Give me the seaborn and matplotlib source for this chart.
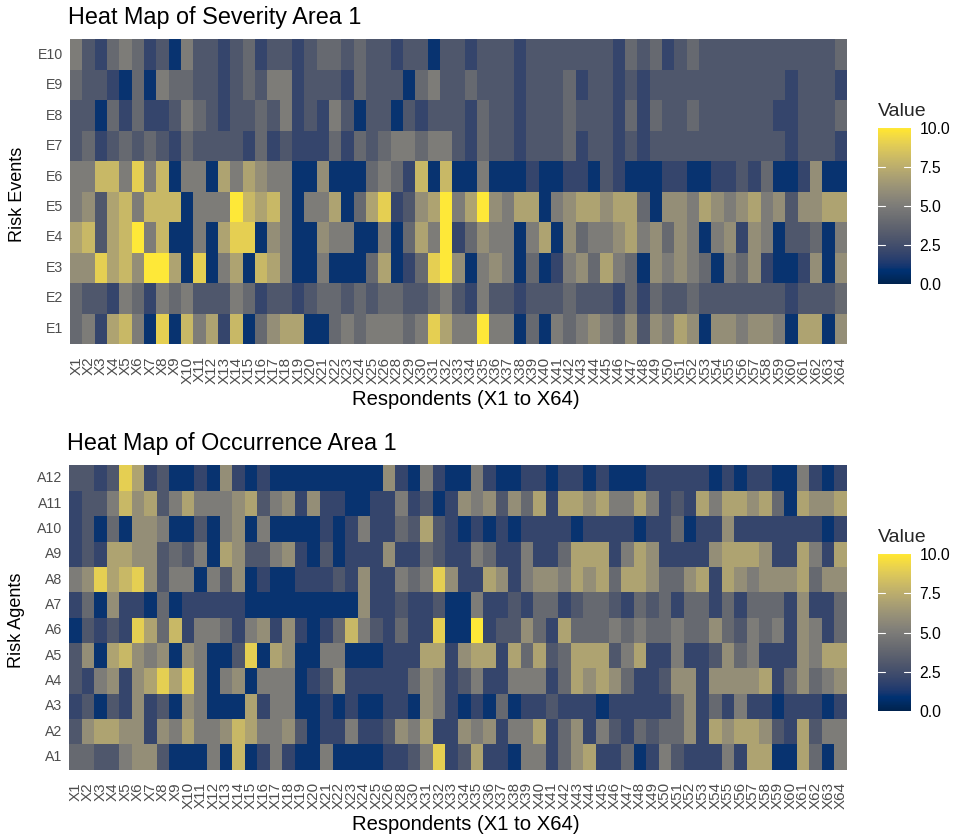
import matplotlib
matplotlib.use("Agg")
import matplotlib.pyplot as plt
import pandas as pd
import seaborn as sns

# column 27 (and 29 in the second panel) are absent in the source chart
respondents_top = [f"X{i}" for i in range(1, 65) if i != 27]
respondents_bottom = [f"X{i}" for i in range(1, 65) if i not in (27, 29)]

events = ["E10", "E9", "E8", "E7", "E6", "E5", "E4", "E3", "E2", "E1"]
agents = ["A12", "A11", "A10", "A9", "A8", "A7", "A6", "A5", "A4", "A3", "A2", "A1"]

e10 = [5,3,2,4,5,4,2,3,1,5,3,3,2,3,4,2,3,3,2,3,4,4,3,4,3,3,2,3,3,1,3,3,
       2,3,3,3,2,3,3,3,3,3,3,3,2,4,3,4,2,3,4,3,3,3,3,3,3,3,3,3,3,3,4]
e9 = [4,3,3,2,1,4,1,5,4,4,3,3,2,3,4,3,5,5,2,3,3,3,2,4,3,3,3,1,4,5,3,3,
      4,3,3,3,2,3,3,3,4,2,3,3,2,3,2,3,3,3,3,3,3,3,3,3,3,3,2,3,3,3,2]
e8 = [3,3,1,4,2,4,2,2,3,5,4,3,2,3,3,4,3,5,2,3,2,5,3,1,3,3,1,3,2,3,3,3,
      2,4,3,3,2,3,3,3,4,3,3,3,2,4,2,4,3,3,4,3,3,3,3,3,3,2,2,3,3,3,4]
e7 = [3,4,2,3,4,3,4,3,2,4,3,3,3,3,2,4,2,3,2,2,2,4,2,4,3,4,5,5,4,5,5,3,
      2,4,3,3,2,3,3,3,4,2,3,3,2,3,2,3,3,3,3,3,3,3,3,3,3,3,2,3,3,3,2]
e6 = [5,5,8,8,5,9,5,8,1,5,5,1,7,5,7,6,5,5,1,1,6,1,1,1,4,5,4,2,8,1,8,1,
      1,5,1,1,1,2,1,1,2,2,1,3,2,1,1,1,2,2,1,1,2,2,3,2,4,1,1,2,6,1,1]
e5 = [5,6,3,7,8,5,8,8,8,1,5,5,5,10,8,7,8,5,1,5,5,7,1,4,7,9,2,3,6,7,10,5,
      7,10,6,5,7,7,1,5,6,7,7,6,7,7,4,1,6,6,5,7,6,5,6,7,5,6,3,6,6,7,7]
e4 = [7,8,3,7,8,10,5,8,1,1,5,1,7,9,9,1,6,5,1,1,6,5,5,1,1,5,1,4,7,5,10,2,
      4,6,5,5,1,5,7,1,6,4,5,5,6,7,5,6,4,6,5,1,5,6,2,6,5,1,3,3,4,1,5]
e3 = [6,6,9,7,8,6,10,10,7,1,9,1,5,7,1,8,7,5,1,1,5,1,1,1,4,7,1,2,4,9,10,6,
      1,5,6,5,1,4,1,2,5,6,4,7,5,4,1,6,5,6,5,4,1,5,4,6,2,1,1,2,6,1,6]
e2 = [4,3,3,2,5,4,2,5,4,5,3,3,3,5,4,2,3,3,2,3,4,4,3,4,3,4,4,3,3,4,5,3,
      2,5,3,3,2,3,3,3,4,3,3,3,2,4,2,4,3,3,4,3,3,3,3,3,3,3,2,3,3,3,4]
e1 = [4,5,2,7,8,5,1,9,1,8,5,7,2,8,1,4,6,7,7,1,1,4,5,4,5,5,5,4,5,9,7,5,
      5,10,5,5,1,4,1,5,4,5,6,5,4,6,3,6,5,7,6,1,6,6,5,6,6,5,1,7,7,1,6]

a12 = [3,3,2,3,9,7,2,3,1,1,2,1,6,2,1,2,1,1,1,1,1,1,1,1,1,6,2,1,5,2,1,
       1,5,2,1,1,2,2,1,2,2,1,2,1,1,1,2,2,2,2,2,1,2,1,2,2,1,1,5,2,1,2]
a11 = [2,3,3,5,8,6,7,3,5,7,5,5,5,6,7,3,5,6,2,6,2,2,1,1,2,2,5,2,3,1,2,
       6,5,6,3,6,4,7,2,7,7,6,7,5,5,7,5,2,3,2,7,5,7,7,6,7,4,1,7,6,6,7]
a10 = [2,3,1,4,1,6,6,5,1,1,3,1,5,6,1,5,1,1,1,1,2,1,2,5,2,2,4,3,7,3,2,
       1,2,1,2,1,2,2,2,2,1,2,2,2,2,1,2,2,4,1,2,2,6,2,2,2,2,2,2,2,1,2]
a9 = [2,3,2,7,7,6,6,3,4,3,5,1,7,6,3,3,5,6,2,1,3,1,2,2,2,6,2,2,4,3,2,
      2,5,4,2,2,5,2,2,4,7,7,7,2,5,7,6,2,2,2,2,6,7,7,7,6,2,2,7,5,2,7]
a8 = [5,6,9,7,8,9,6,3,5,5,1,5,3,6,1,2,1,1,2,2,2,3,2,6,2,2,5,4,5,9,6,
      2,2,7,6,2,5,6,6,5,7,6,7,4,7,7,6,4,4,6,7,2,7,6,5,6,6,6,7,4,6,6]
a7 = [2,4,1,6,2,2,1,4,1,2,2,2,2,2,1,1,1,1,1,1,1,1,1,6,2,2,3,2,2,3,1,
      1,5,2,2,3,2,4,4,2,3,4,4,3,2,4,3,4,2,4,4,2,4,2,4,4,4,2,6,2,2,4]
a6 = [1,3,2,3,2,9,7,4,8,2,5,5,4,2,5,6,2,6,2,1,2,4,8,5,3,2,4,2,2,9,1,
      1,10,2,3,3,6,4,2,7,4,4,4,5,4,5,4,4,5,4,4,6,4,3,5,4,5,2,6,5,2,4]
a5 = [3,6,1,7,8,6,5,6,1,6,5,1,1,3,9,1,7,6,1,1,5,5,1,1,1,2,2,2,7,7,2,
      6,7,7,2,7,4,7,3,4,7,7,7,3,5,7,2,2,5,2,2,3,6,4,5,2,2,2,6,5,7,7]
a4 = [3,2,5,6,2,6,7,9,7,9,5,1,5,6,1,5,5,5,1,2,3,6,2,2,2,2,2,4,6,5,2,
      3,5,2,2,5,5,5,2,4,7,6,7,6,4,2,2,3,6,6,2,6,6,6,6,7,2,4,6,4,5,6]
a3 = [2,3,1,3,2,6,2,3,1,6,5,1,1,1,7,2,5,5,1,1,2,1,2,1,1,2,2,1,6,5,2,
      1,2,1,4,1,2,2,3,2,2,2,1,2,2,2,2,2,4,6,2,4,2,5,2,2,1,2,2,2,1,2]
a2 = [3,6,7,7,6,6,2,6,5,7,5,5,6,8,7,5,5,6,3,1,2,2,5,2,2,3,6,5,7,2,2,
      6,5,6,2,5,5,7,2,4,6,2,5,3,2,4,3,4,4,6,2,7,6,7,7,6,3,2,7,3,5,5]
a1 = [4,4,3,3,5,6,6,3,1,1,1,5,1,8,1,2,5,2,1,1,5,1,1,1,1,2,2,3,5,9,2,
      3,7,2,2,1,5,5,2,4,6,7,2,2,4,1,2,5,3,2,2,2,5,2,7,7,1,1,7,4,1,5]

cbar_ticks = [0, 2.5, 5, 7.5, 10]
cbar_labels = ["0.0", "2.5", "5.0", "7.5", "10.0"]
W, H = 957, 838


def px_axes(fig, left, top, right, bottom):
    return fig.add_axes([left / W, 1 - bottom / H, (right - left) / W, (bottom - top) / H])


def draw_panel(fig, rows, labels, columns, box, cbar_box, title, ylabel):
    df = pd.DataFrame(rows, index=labels, columns=columns)
    ax = px_axes(fig, *box)
    cax = px_axes(fig, *cbar_box)
    sns.heatmap(df, ax=ax, cbar_ax=cax, cmap="cividis", vmin=0, vmax=10,
                xticklabels=True, yticklabels=True, linewidths=0)

    ax.set_title(title, loc="left", fontsize=16.8, color="black", pad=11.5, x=-0.002)
    ax.set_xlabel("Respondents (X1 to X64)", fontsize=14.6, color="black")
    ax.set_ylabel(ylabel, fontsize=13, color="black")
    ax.xaxis.set_label_coords(0.51, -0.15)
    ax.yaxis.set_label_coords(-0.056, 0.49)
    ax.tick_params(axis="x", length=2, width=0.6, color="#d0d0d0", labelcolor="#4d4d4d",
                   labelsize=11, labelrotation=90, pad=7)
    ax.tick_params(axis="y", length=2, width=0.6, color="#d0d0d0", labelcolor="#4d4d4d",
                   labelsize=10.2, labelrotation=0, pad=3)

    cax.set_yticks(cbar_ticks, cbar_labels)
    cax.tick_params(axis="y", length=0, labelsize=11.3, labelcolor="black", pad=6)
    for t in cbar_ticks[1:-1]:
        cax.plot([0, 0.2], [t, t], color="white", lw=0.8, transform=cax.get_yaxis_transform())
        cax.plot([0.8, 1], [t, t], color="white", lw=0.8, transform=cax.get_yaxis_transform())
    cax.text(0, 1.05, "Value", transform=cax.transAxes, fontsize=14, va="bottom", ha="left")
    for s in cax.spines.values():
        s.set_visible(False)


sns.set_theme(style="white")
plt.rcParams["font.family"] = ["Liberation Sans", "DejaVu Sans"]

fig = plt.figure(figsize=(W / 100, H / 100), dpi=100)

draw_panel(fig, [e10, e9, e8, e7, e6, e5, e4, e3, e2, e1], events, respondents_top,
           (70, 39.5, 847, 344), (878, 128, 911, 284),
           "Heat Map of Severity Area 1", "Risk Events")
draw_panel(fig, [a12, a11, a10, a9, a8, a7, a6, a5, a4, a3, a2, a1], agents, respondents_bottom,
           (69, 465.5, 847, 769.5), (878, 554, 911, 711),
           "Heat Map of Occurrence Area 1", "Risk Agents")

fig.savefig("out.png", dpi=100)
plt.close(fig)
